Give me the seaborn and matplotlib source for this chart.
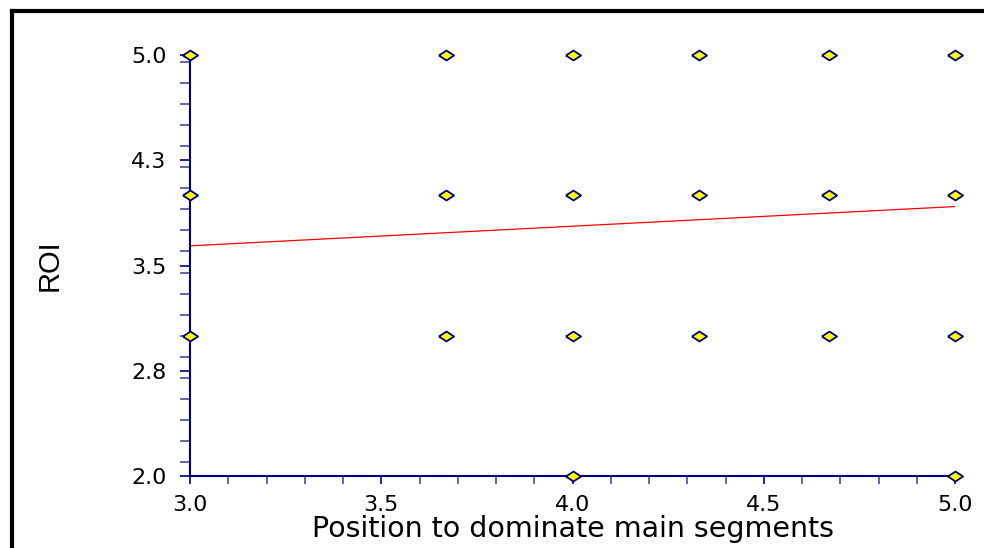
import numpy as np
import pandas as pd
import seaborn as sns
import matplotlib.pyplot as plt
from matplotlib.ticker import MultipleLocator, FixedLocator, FixedFormatter
from matplotlib.lines import Line2D

# observed points (ROI vs position score)
position = [3.0, 3.67, 4.0, 4.33, 4.67, 5.0,
            3.0, 3.67, 4.0, 4.33, 4.67, 5.0,
            3.0, 3.67, 4.0, 4.33, 4.67, 5.0,
            4.0, 5.0]
roi = [5, 5, 5, 5, 5, 5,
       4, 4, 4, 4, 4, 4,
       3, 3, 3, 3, 3, 3,
       2, 2]

# fitted regression line, read at the ends of the x range
fit_x = [3.0, 5.0]
fit_y = [3.64, 3.92]

y_ticks = [2.0, 2.75, 3.5, 4.25, 5.0]
y_tick_labels = ["2.0", "2.8", "3.5", "4.3", "5.0"]
x_ticks = [3.0, 3.5, 4.0, 4.5, 5.0]
x_tick_labels = ["3.0", "3.5", "4.0", "4.5", "5.0"]

navy = "#000080"

sns.set_style("ticks")
plt.rcParams['font.family'] = ['DejaVu Sans']
plt.rcParams['text.color'] = 'black'
plt.rcParams['xtick.labelcolor'] = 'black'
plt.rcParams['ytick.labelcolor'] = 'black'
plt.rcParams['axes.labelcolor'] = 'black'

df = pd.DataFrame({"position": position, "roi": roi})

fig = plt.figure(figsize=(9.84, 5.48), dpi=100)
ax = fig.add_axes([190 / 984, 1 - 476 / 548, 765 / 984, 421 / 548])

# flat diamond marker
diamond = [(-1, 0), (0, 0.65), (1, 0), (0, -0.65), (-1, 0)]

sns.lineplot(x=fit_x, y=fit_y, ax=ax, color="#ff0000", linewidth=0.9, zorder=2)
sns.scatterplot(
    data=df, x="position", y="roi", ax=ax,
    marker=diamond, s=120, color="#ffff00", edgecolor=navy,
    linewidth=1.3, zorder=5, clip_on=False
)

ax.set_xlim(3.0, 5.0)
ax.set_ylim(2.0, 5.0)

ax.xaxis.set_major_locator(FixedLocator(x_ticks))
ax.xaxis.set_major_formatter(FixedFormatter(x_tick_labels))
ax.xaxis.set_minor_locator(MultipleLocator(0.1))
ax.yaxis.set_major_locator(FixedLocator(y_ticks))
ax.yaxis.set_major_formatter(FixedFormatter(y_tick_labels))
ax.yaxis.set_minor_locator(MultipleLocator(0.15))

for side in ["top", "right"]:
    ax.spines[side].set_visible(False)
for side in ["left", "bottom"]:
    ax.spines[side].set_color(navy)
    ax.spines[side].set_linewidth(1.5)

ax.tick_params(axis="both", which="both", direction="out", color=navy, width=1.2)
ax.tick_params(axis="x", which="both", length=6, pad=8, labelsize=16)
ax.tick_params(axis="y", which="both", length=7, pad=10, labelsize=16)
ax.tick_params(which="minor", color="#4a4aa0")

ax.set_xlabel("Position to dominate main segments", fontsize=20.5, labelpad=0)
ax.set_ylabel("ROI", fontsize=21, va="center",
              family=["Liberation Sans Narrow", "Liberation Sans", "DejaVu Sans"])
ax.yaxis.set_label_coords(-0.183, 0.5)

# black frame around the figure (partly cut off at the edges)
fig.add_artist(Line2D([12 / 984, 12 / 984], [0, 1 - 11 / 548], transform=fig.transFigure,
                      color="black", linewidth=3, solid_capstyle="projecting"))
fig.add_artist(Line2D([12 / 984, 1], [1 - 11 / 548, 1 - 11 / 548], transform=fig.transFigure,
                      color="black", linewidth=3, solid_capstyle="projecting"))

plt.savefig("out.png", dpi=100)
